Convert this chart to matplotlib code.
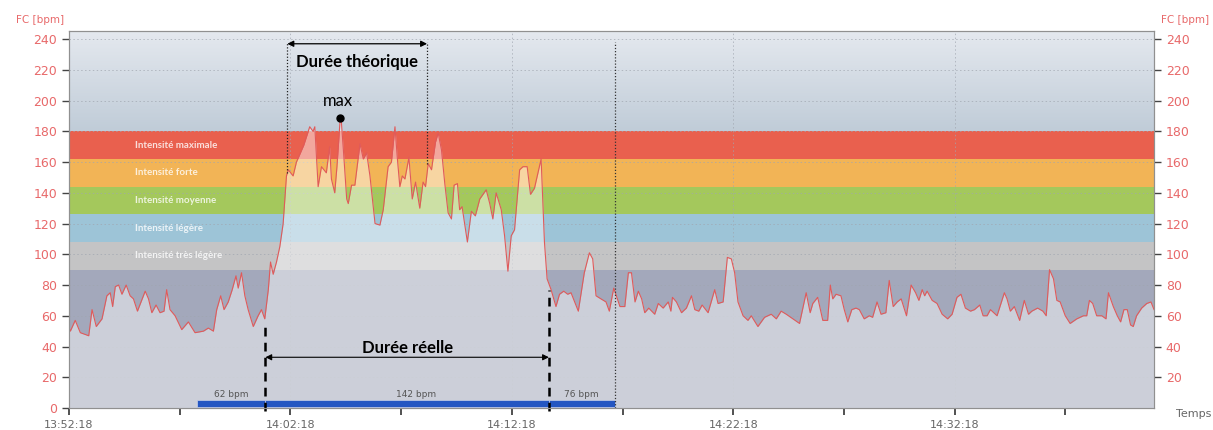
import numpy as np
import matplotlib.pyplot as plt

# temps en minutes depuis 13:52:18, frequence cardiaque en bpm
t_min = [0.0, 0.06, 0.28, 0.51, 0.89, 1.04, 1.23, 1.49, 1.71, 1.86, 1.97, 2.09, 2.24, 2.39, 2.58,
         2.76, 2.91, 3.09, 3.44, 3.59, 3.74, 3.93, 4.11, 4.29, 4.41, 4.56, 4.79, 5.09, 5.39, 5.69,
         6.07, 6.29, 6.52, 6.67, 6.85, 7.0, 7.19, 7.37, 7.54, 7.64, 7.79, 7.94, 8.09, 8.32, 8.54,
         8.69, 8.84, 9.0, 9.1, 9.22, 9.37, 9.52, 9.67, 9.82, 9.9, 10.12, 10.27, 10.6, 10.87, 11.02,
         11.1, 11.25, 11.4, 11.62, 11.77, 11.85, 12.0, 12.1, 12.25, 12.3, 12.39, 12.54, 12.61, 12.76,
         12.91, 13.14, 13.29, 13.44, 13.59, 13.82, 14.04, 14.19, 14.41, 14.56, 14.72, 14.83, 14.94,
         15.05, 15.17, 15.35, 15.5, 15.65, 15.84, 15.99, 16.1, 16.22, 16.37, 16.55, 16.67, 16.82,
         16.97, 17.12, 17.27, 17.39, 17.54, 17.64, 17.75, 17.99, 18.17, 18.35, 18.55, 18.84, 19.0,
         19.14, 19.29, 19.52, 19.67, 19.82, 19.97, 20.12, 20.35, 20.5, 20.69, 20.84, 21.02, 21.32,
         21.47, 21.59, 21.77, 21.99, 22.15, 22.34, 22.52, 22.67, 23.0, 23.27, 23.5, 23.65, 23.8,
         24.02, 24.25, 24.4, 24.6, 24.88, 25.1, 25.26, 25.4, 25.56, 25.71, 25.86, 26.0, 26.18,
         26.45, 26.61, 26.83, 27.06, 27.18, 27.25, 27.43, 27.66, 27.88, 28.11, 28.26, 28.44, 28.59,
         28.86, 29.16, 29.31, 29.54, 29.73, 29.91, 30.06, 30.21, 30.44, 30.66, 30.81, 31.11, 31.41,
         31.71, 31.94, 32.16, 32.39, 32.69, 32.99, 33.29, 33.47, 33.59, 33.81, 34.04, 34.26, 34.38,
         34.49, 34.64, 34.86, 35.01, 35.17, 35.35, 35.54, 35.69, 35.91, 36.14, 36.29, 36.49, 36.67,
         36.89, 37.04, 37.22, 37.4, 37.58, 37.82, 38.03, 38.23, 38.38, 38.53, 38.64, 38.75, 38.98,
         39.2, 39.43, 39.68, 39.88, 40.1, 40.28, 40.48, 40.71, 40.89, 41.13, 41.28, 41.46, 41.61,
         41.91, 42.24, 42.36, 42.51, 42.69, 42.93, 43.14, 43.33, 43.48, 43.74, 43.98, 44.13, 44.28,
         44.46, 44.61, 44.76, 44.99, 45.21, 45.51, 45.81, 45.96, 46.08, 46.23, 46.41, 46.64, 46.83,
         46.94, 47.16, 47.34, 47.49, 47.64, 47.79, 47.94, 48.06, 48.21, 48.44, 48.67, 48.86, 49.0]
fc_bpm = [52, 50, 57, 49, 47, 64, 53, 58, 73, 75, 66, 79, 80, 74, 80,
          73, 71, 63, 76, 71, 62, 67, 62, 63, 77, 64, 60, 51, 56, 49,
          50, 52, 50, 64, 73, 64, 69, 77, 86, 78, 88, 73, 64, 53, 60,
          64, 58, 77, 95, 87, 95, 105, 120, 151, 155, 151, 160, 171, 183, 180,
          183, 144, 157, 153, 170, 149, 140, 157, 189, 186, 168, 136, 133, 145,
          145, 172, 162, 166, 151, 120, 119, 129, 157, 160, 183, 162, 144,
          151, 149, 163, 136, 147, 130, 147, 144, 159, 155, 173, 179, 168,
          146, 127, 123, 145, 146, 129, 131, 108, 128, 125, 136, 142, 133,
          123, 140, 129, 112, 89, 112, 116, 155, 157, 157, 139, 143, 162,
          108, 84, 77, 66, 74, 76, 74, 75, 63, 88, 101, 97, 73,
          71, 69, 63, 78, 66, 66, 88, 88, 69, 76, 71, 62, 65,
          61, 68, 65, 69, 63, 72, 69, 62, 65, 73, 64, 63, 67,
          62, 77, 68, 69, 98, 97, 88, 69, 60, 57, 60, 53, 59,
          61, 58, 63, 61, 58, 55, 75, 62, 68, 72, 57, 57, 80,
          71, 74, 73, 64, 56, 64, 65, 64, 58, 60, 59, 69, 61,
          62, 83, 66, 69, 71, 60, 80, 75, 70, 77, 73, 76, 70,
          68, 61, 58, 61, 72, 74, 65, 63, 64, 67, 60, 60, 64,
          60, 75, 71, 63, 66, 57, 70, 61, 63, 65, 63, 60, 90,
          84, 70, 69, 60, 55, 58, 60, 60, 70, 68, 60, 60, 58,
          75, 66, 60, 56, 64, 64, 54, 53, 60, 65, 68, 69, 64]

# zones d'intensite
zone_bounds = [90, 108, 126, 144, 162, 180]
zone_names = ['Intensité très légère', 'Intensité légère', 'Intensité moyenne',
              'Intensité forte', 'Intensité maximale']
zone_colors = ['#c4c4c5', '#9dc4d7', '#a4c85c', '#f2b456', '#e9604e']

# barre des moyennes
seg_start = [5.77, 8.87, 21.67]
seg_end = [8.87, 21.67, 24.64]
seg_avg = [62, 142, 76]

# reperes
t_theo = [9.86, 16.17]
t_reel = [8.87, 21.67]
t_max, fc_max = 12.25, 189

x_ticks = [0, 10, 20, 30, 40]
x_labels = ['13:52:18', '14:02:18', '14:12:18', '14:22:18', '14:32:18']
t_end = 49.0
y_top = 245.5

red_txt = '#e8696a'
plt.rcParams['font.family'] = ['DejaVu Sans']

fig = plt.figure(figsize=(12.13, 4.30), dpi=100)
ax = fig.add_axes([0.0569, 0.0512, 0.8945, 0.8774])
ax.set_xlim(0, t_end)
ax.set_ylim(0, y_top)

# fond
ax.axhspan(0, zone_bounds[0], color='#a3a8bb', lw=0, zorder=0)
for i in range(5):
    ax.axhspan(zone_bounds[i], zone_bounds[i + 1], color=zone_colors[i], lw=0, zorder=0)
grad = np.linspace(0, 1, 100).reshape(-1, 1)
c_bot = np.array([0xc0, 0xcc, 0xd8]) / 255
c_top = np.array([0xe5, 0xe9, 0xef]) / 255
img = c_bot + grad[:, :, None] * (c_top - c_bot)
ax.imshow(img, extent=[0, t_end, zone_bounds[-1], y_top], origin='lower', aspect='auto', zorder=0)

for i, name in enumerate(zone_names):
    ax.text(2.97, (zone_bounds[i] + zone_bounds[i + 1]) / 2, name, color='white', alpha=0.8,
            fontsize=7, fontweight='bold', family=['Lato', 'DejaVu Sans'], va='center', zorder=2)

# grille
for y in range(20, 241, 20):
    ax.axhline(y, color='#a0a6b0', lw=0.7, ls=(0, (1.5, 2.5)), alpha=0.7, zorder=1)
for x in x_ticks[1:]:
    ax.axvline(x, color='#a0a6b0', lw=0.7, ls=(0, (1.5, 2.5)), alpha=0.7, zorder=1)

# courbe
ax.fill_between(t_min, 0, fc_bpm, color='white', alpha=0.45, lw=0, zorder=3)
ax.plot(t_min, fc_bpm, color='#e05a5a', lw=0.8, zorder=4)

# barre des moyennes
ax.barh([3] * 3, np.array(seg_end) - np.array(seg_start), left=seg_start, height=4.2,
        color='#2456c2', edgecolor='#c8d0e8', lw=0.5, zorder=5)
for s, e, a in zip(seg_start, seg_end, seg_avg):
    ax.text((s + e) / 2 + (0.4 if a == 142 else 0), 9, f'{a} bpm', color='#555555',
            fontsize=6.5, ha='center', va='center', zorder=5)

# duree theorique
for x, yb in zip(t_theo, [153, 159]):
    ax.plot([x, x], [yb, 238], color='#222222', lw=0.9, ls=(0, (1, 1.5)), zorder=6)
ax.axvline(seg_end[-1], ymax=238 / y_top, color='#333333', lw=0.9, ls=(0, (1, 1.5)), zorder=6)
ax.annotate('', xy=(t_theo[0], 237), xytext=(t_theo[1], 237),
            arrowprops=dict(arrowstyle='<|-|>', color='black', lw=0.9, mutation_scale=9,
                            shrinkA=0, shrinkB=0), zorder=7)
ax.text(sum(t_theo) / 2, 225, 'Durée théorique', fontsize=12, fontweight='bold',
        family=['Lato', 'DejaVu Sans'], ha='center', va='center', zorder=7)

# duree reelle
ax.plot([t_reel[0], t_reel[0]], [-2, 54], color='black', lw=1.8, ls=(0, (3.5, 2.5)),
        clip_on=False, zorder=7)
ax.plot([t_reel[1], t_reel[1]], [-2, 77], color='black', lw=1.8, ls=(0, (3.5, 2.5)),
        clip_on=False, zorder=7)
ax.annotate('', xy=(t_reel[0], 33), xytext=(t_reel[1], 33),
            arrowprops=dict(arrowstyle='<|-|>', color='black', lw=0.8, mutation_scale=9,
                            shrinkA=0, shrinkB=0), zorder=7)
ax.text(15.3, 39, 'Durée réelle', fontsize=12, fontweight='bold',
        family=['Lato', 'DejaVu Sans'], ha='center', va='center', zorder=7)

# max
ax.plot([t_max], [fc_max], 'o', color='black', ms=5, zorder=8)
ax.text(t_max - 0.1, 200, 'max', fontsize=12, family=['Lato', 'DejaVu Sans'],
        ha='center', va='center', zorder=8)

# axes
ax.set_xticks(x_ticks)
ax.set_xticklabels(x_labels)
ax.set_xticks([5, 15, 25, 35, 45], minor=True)
ax.set_yticks(range(0, 241, 20))
ax.tick_params(axis='x', direction='out', length=5, width=1.2, colors='#333333',
               labelcolor='#666666', labelsize=8, which='both')
ax.tick_params(axis='y', direction='out', length=5, width=1, colors='#444444',
               labelcolor=red_txt, labelsize=9)
for s in ax.spines.values():
    s.set_color('#909090')
    s.set_linewidth(0.8)

ax2 = ax.twinx()
ax2.set_ylim(0, y_top)
ax2.set_yticks(range(20, 241, 20))
ax2.tick_params(axis='y', direction='out', length=5, width=1, colors='#444444',
                labelcolor=red_txt, labelsize=9)
for s in ax2.spines.values():
    s.set_color('#909090')
    s.set_linewidth(0.8)

fig.text(0.033, 0.953, 'FC [bpm]', color=red_txt, fontsize=7.5, ha='center', va='center')
fig.text(0.997, 0.953, 'FC [bpm]', color=red_txt, fontsize=7.5, ha='right', va='center')
fig.text(0.984, 0.037, 'Temps', color='#666666', fontsize=8, ha='center', va='center')

fig.savefig('out.png', dpi=100)
